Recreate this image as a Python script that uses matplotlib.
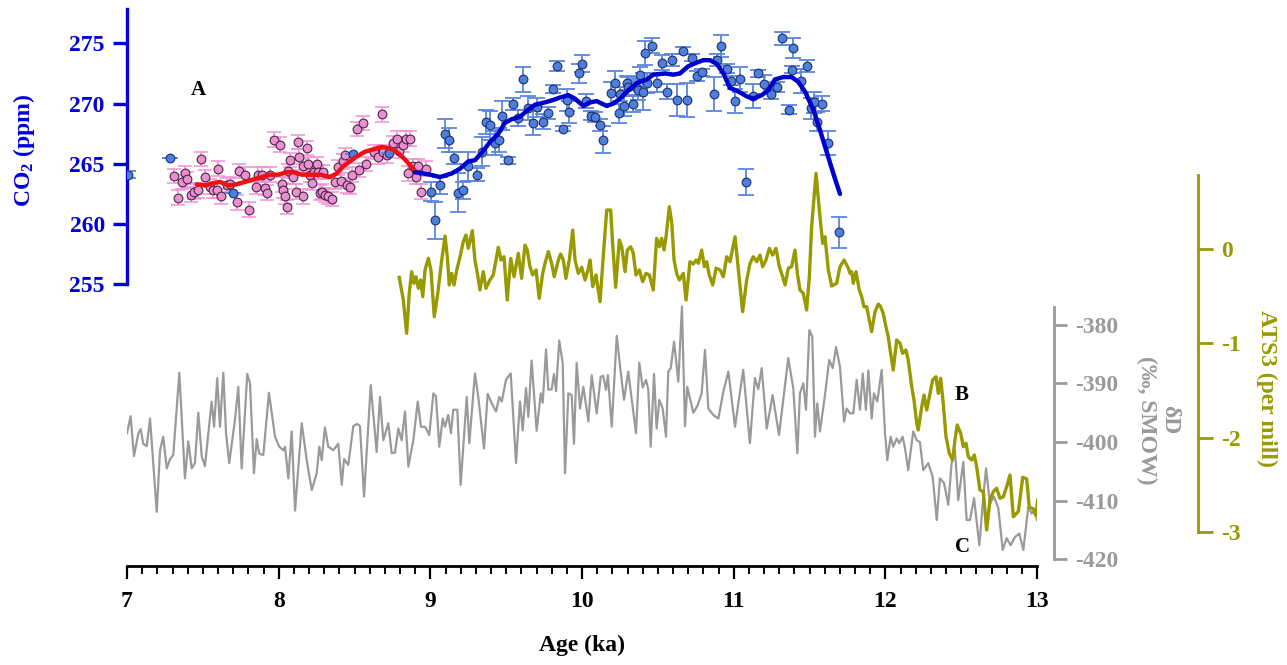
import matplotlib
matplotlib.use("Agg")
import matplotlib.pyplot as plt
from matplotlib.ticker import MultipleLocator, FixedLocator

# ---------------------------------------------------------------- data
# δD (‰, SMOW) record
DD_AGE = [7.000, 7.024, 7.046, 7.075, 7.090, 7.107, 7.130, 7.152, 7.196, 7.218, 7.239, 7.262, 7.284, 7.305,
          7.345, 7.382, 7.404, 7.427, 7.448, 7.470, 7.493, 7.514, 7.558, 7.574, 7.595, 7.613, 7.635, 7.653,
          7.674, 7.712, 7.734, 7.756, 7.793, 7.811, 7.837, 7.855, 7.872, 7.899, 7.936, 7.976, 8.004, 8.031,
          8.042, 8.064, 8.086, 8.108, 8.152, 8.185, 8.218, 8.251, 8.268, 8.284, 8.305, 8.327, 8.360, 8.393,
          8.416, 8.431, 8.459, 8.492, 8.518, 8.536, 8.563, 8.607, 8.646, 8.668, 8.690, 8.723, 8.745, 8.767,
          8.789, 8.811, 8.833, 8.855, 8.888, 8.917, 8.938, 8.965, 8.993, 9.020, 9.037, 9.059, 9.082, 9.097,
          9.118, 9.136, 9.151, 9.178, 9.200, 9.240, 9.257, 9.294, 9.316, 9.354, 9.378, 9.405, 9.433, 9.455,
          9.471, 9.499, 9.530, 9.565, 9.591, 9.609, 9.631, 9.646, 9.668, 9.701, 9.728, 9.741, 9.763, 9.778,
          9.800, 9.815, 9.829, 9.850, 9.873, 9.888, 9.910, 9.932, 9.947, 9.965, 9.987, 10.009, 10.042,
          10.064, 10.097, 10.123, 10.140, 10.158, 10.171, 10.196, 10.229, 10.255, 10.277, 10.305, 10.328,
          10.356, 10.378, 10.400, 10.422, 10.437, 10.453, 10.475, 10.492, 10.510, 10.532, 10.554, 10.569,
          10.585, 10.607, 10.635, 10.659, 10.679, 10.694, 10.734, 10.760, 10.789, 10.811, 10.833, 10.866,
          10.899, 10.932, 10.965, 11.009, 11.037, 11.063, 11.107, 11.140, 11.162, 11.185, 11.218, 11.257,
          11.299, 11.327, 11.360, 11.393, 11.420, 11.437, 11.459, 11.477, 11.499, 11.518, 11.536, 11.551,
          11.569, 11.602, 11.630, 11.653, 11.675, 11.701, 11.728, 11.745, 11.767, 11.789, 11.811, 11.833,
          11.851, 11.872, 11.888, 11.910, 11.925, 11.947, 11.976, 11.998, 12.013, 12.035, 12.052, 12.075,
          12.092, 12.114, 12.130, 12.151, 12.184, 12.207, 12.228, 12.250, 12.283, 12.312, 12.339, 12.360,
          12.387, 12.415, 12.437, 12.459, 12.481, 12.514, 12.536, 12.558, 12.585, 12.620, 12.642, 12.664,
          12.690, 12.716, 12.745, 12.774, 12.800, 12.826, 12.855, 12.883, 12.910, 12.943, 12.965, 12.987,
          13.000]
DD_VAL = [-398.5, -395.6, -402.4, -398.5, -397.8, -400.3, -400.7, -396.0, -411.9, -401.4, -399.1, -404.5,
          -402.9, -402.2, -388.2, -406.2, -399.9, -404.5, -403.6, -395.0, -402.5, -404.1, -393.1, -397.4,
          -389.1, -397.4, -388.2, -398.5, -403.6, -396.2, -390.6, -404.5, -388.4, -390.0, -405.3, -399.5,
          -402.0, -402.2, -391.6, -399.1, -400.8, -401.4, -400.8, -406.2, -398.2, -411.7, -396.8, -403.1,
          -408.2, -405.3, -400.8, -403.1, -397.5, -400.8, -401.4, -400.3, -407.3, -402.9, -403.9, -397.3,
          -396.9, -397.3, -409.3, -390.3, -401.7, -392.3, -399.7, -396.8, -401.9, -401.8, -397.7, -399.7,
          -394.8, -404.2, -399.7, -393.1, -397.4, -397.4, -398.8, -391.7, -392.2, -400.8, -396.0, -397.4,
          -395.4, -398.5, -394.5, -394.5, -407.3, -392.3, -400.2, -388.3, -392.3, -401.1, -391.8, -393.4,
          -394.8, -392.3, -393.1, -389.4, -388.3, -403.6, -393.1, -398.0, -390.8, -395.7, -386.1, -398.1,
          -391.7, -393.3, -384.2, -391.1, -391.0, -388.4, -391.3, -382.7, -386.6, -405.3, -391.7, -392.0,
          -400.3, -386.5, -394.3, -390.6, -396.5, -388.6, -395.1, -388.9, -388.7, -391.1, -388.6, -397.4,
          -381.9, -388.0, -392.8, -388.0, -392.8, -398.5, -386.5, -390.7, -389.4, -391.1, -400.8, -388.4,
          -397.7, -392.8, -394.3, -399.1, -388.0, -387.4, -382.9, -389.7, -376.9, -397.3, -390.6, -395.0,
          -393.9, -391.7, -384.3, -394.3, -395.4, -396.0, -391.4, -388.0, -397.4, -392.3, -387.7, -400.2,
          -389.1, -391.0, -387.4, -397.7, -392.0, -398.8, -392.8, -385.7, -390.8, -401.9, -391.7, -390.0,
          -394.5, -380.9, -382.0, -399.1, -393.4, -398.2, -392.0, -386.0, -387.4, -383.8, -387.2, -396.5,
          -394.3, -395.1, -395.1, -389.4, -394.5, -388.3, -394.5, -387.8, -396.0, -391.7, -393.1, -387.7,
          -398.5, -403.1, -399.1, -400.8, -399.4, -400.2, -399.1, -401.1, -404.8, -398.2, -399.7, -400.0,
          -404.8, -403.6, -405.9, -413.3, -406.2, -407.0, -410.7, -403.6, -401.4, -409.9, -403.4, -413.3,
          -413.3, -409.6, -417.6, -410.5, -404.5, -410.5, -409.3, -411.3, -418.4, -416.4, -417.6, -416.2,
          -415.6, -418.4, -411.0, -412.2, -411.6, -413.3]

# ATS3 (per mill) record
ATS_AGE = [8.795, 8.822, 8.844, 8.861, 8.877, 8.892, 8.905, 8.921, 8.936, 8.950, 8.965, 8.987, 9.004, 9.026,
           9.049, 9.075, 9.097, 9.112, 9.125, 9.141, 9.156, 9.174, 9.196, 9.217, 9.235, 9.250, 9.277, 9.294,
           9.310, 9.327, 9.349, 9.367, 9.393, 9.415, 9.433, 9.448, 9.466, 9.486, 9.507, 9.530, 9.552, 9.580,
           9.602, 9.624, 9.639, 9.657, 9.675, 9.697, 9.718, 9.741, 9.756, 9.778, 9.800, 9.817, 9.844, 9.859,
           9.877, 9.894, 9.916, 9.939, 9.954, 9.976, 9.998, 10.020, 10.042, 10.053, 10.071, 10.092, 10.119,
           10.140, 10.163, 10.189, 10.202, 10.222, 10.246, 10.262, 10.284, 10.299, 10.321, 10.338, 10.356,
           10.378, 10.400, 10.422, 10.444, 10.470, 10.492, 10.510, 10.525, 10.541, 10.554, 10.576, 10.592,
           10.607, 10.624, 10.642, 10.668, 10.686, 10.712, 10.734, 10.752, 10.767, 10.789, 10.807, 10.822,
           10.839, 10.862, 10.884, 10.910, 10.932, 10.954, 10.976, 11.009, 11.031, 11.059, 11.086, 11.108,
           11.129, 11.152, 11.174, 11.191, 11.213, 11.235, 11.257, 11.279, 11.301, 11.323, 11.339, 11.360,
           11.382, 11.404, 11.420, 11.437, 11.459, 11.481, 11.499, 11.514, 11.543, 11.569, 11.587, 11.602,
           11.624, 11.646, 11.679, 11.701, 11.728, 11.756, 11.767, 11.778, 11.789, 11.807, 11.828, 11.844,
           11.859, 11.877, 11.894, 11.910, 11.932, 11.954, 11.969, 11.986, 12.004, 12.019, 12.035, 12.052,
           12.075, 12.097, 12.114, 12.136, 12.151, 12.174, 12.189, 12.207, 12.217, 12.240, 12.255, 12.273,
           12.290, 12.312, 12.334, 12.349, 12.365, 12.382, 12.400, 12.422, 12.444, 12.459, 12.474, 12.497,
           12.514, 12.532, 12.547, 12.569, 12.587, 12.602, 12.624, 12.646, 12.668, 12.690, 12.712, 12.734,
           12.756, 12.778, 12.800, 12.822, 12.844, 12.877, 12.906, 12.932, 12.949, 12.976, 12.993, 13.005]
ATS_VAL = [-0.300, -0.540, -0.893, -0.469, -0.240, -0.363, -0.293, -0.416, -0.328, -0.505, -0.222, -0.099,
           -0.222, -0.717, -0.469, -0.117, 0.138, -0.082, -0.381, -0.258, -0.381, -0.222, -0.082, 0.077,
           0.148, 0.007, 0.194, -0.117, -0.258, -0.434, -0.240, -0.416, -0.328, -0.275, -0.117, 0.018,
           -0.117, -0.082, -0.540, -0.099, -0.293, -0.046, -0.311, 0.042, -0.011, -0.187, -0.275, -0.222,
           -0.523, -0.258, -0.152, -0.028, -0.152, -0.293, -0.117, -0.053, -0.117, -0.311, -0.117, 0.201,
           -0.117, -0.258, -0.194, -0.328, -0.204, -0.117, -0.399, -0.275, -0.558, -0.082, 0.413, 0.413,
           0.060, -0.406, 0.095, 0.024, -0.240, -0.011, 0.024, -0.046, -0.275, -0.222, -0.346, -0.258,
           -0.275, -0.434, 0.113, 0.024, 0.113, -0.011, 0.130, 0.448, 0.272, -0.117, -0.258, -0.328,
           -0.258, -0.540, -0.134, -0.159, -0.117, -0.152, -0.011, -0.187, -0.134, -0.275, -0.381, -0.204,
           -0.222, -0.293, -0.082, -0.134, 0.130, -0.222, -0.664, -0.328, -0.152, -0.082, -0.134, -0.064,
           -0.187, -0.117, 0.007, -0.064, 0.007, -0.187, -0.293, -0.381, -0.204, -0.187, -0.011, -0.258,
           -0.434, -0.469, -0.646, -0.293, 0.236, 0.802, 0.342, 0.060, 0.130, -0.222, -0.392, -0.363,
           -0.187, -0.117, -0.204, -0.258, -0.240, -0.363, -0.240, -0.434, -0.505, -0.611, -0.611, -0.752,
           -0.876, -0.664, -0.583, -0.611, -0.681, -0.823, -0.929, -1.105, -1.282, -0.964, -0.999, -1.105,
           -1.070, -1.176, -1.459, -1.600, -1.846, -1.917, -1.671, -1.547, -1.706, -1.565, -1.388, -1.353,
           -1.529, -1.370, -1.635, -1.988, -2.164, -2.235, -2.023, -1.864, -1.952, -2.094, -2.058, -2.200,
           -2.235, -2.182, -2.306, -2.553, -2.571, -2.977, -2.659, -2.571, -2.535, -2.641, -2.624, -2.518,
           -2.394, -2.836, -2.780, -2.418, -2.435, -2.735, -2.752, -2.824, -2.659]

# CO2 (ppm), older ice-core measurements with 1-sigma errors
BLUE_AGE = [7.009, 7.284, 7.701, 8.488, 8.727, 9.002, 9.031, 9.064, 9.097, 9.125, 9.158, 9.184, 9.213,
            9.250, 9.310, 9.339, 9.367, 9.393, 9.426, 9.455, 9.474, 9.512, 9.547, 9.580, 9.613, 9.646,
            9.675, 9.701, 9.741, 9.774, 9.807, 9.833, 9.877, 9.899, 9.914, 9.982, 9.998, 10.026, 10.057,
            10.086, 10.119, 10.140, 10.189, 10.218, 10.246, 10.250, 10.279, 10.294, 10.305, 10.338, 10.360,
            10.371, 10.382, 10.400, 10.418, 10.431, 10.464, 10.492, 10.525, 10.558, 10.593, 10.628, 10.664,
            10.694, 10.723, 10.760, 10.789, 10.870, 10.892, 10.917, 10.958, 10.980, 11.011, 11.042, 11.081,
            11.125, 11.162, 11.200, 11.244, 11.284, 11.319, 11.365, 11.383, 11.389, 11.444, 11.481, 11.508,
            11.530, 11.551, 11.584, 11.619, 11.694]
BLUE_CO2 = [264.1, 265.5, 262.6, 265.8, 265.9, 262.7, 260.3, 263.2, 267.5, 267.0, 265.5, 262.6, 262.8,
            264.8, 264.1, 266.0, 268.5, 268.2, 266.7, 267.0, 269.0, 265.3, 270.0, 268.8, 272.0, 269.6,
            268.4, 269.7, 268.5, 269.2, 271.2, 273.1, 267.9, 270.3, 269.3, 272.5, 273.3, 270.2, 269.0,
            268.9, 268.2, 267.0, 270.9, 271.7, 269.2, 270.8, 269.8, 271.7, 271.4, 270.0, 271.3,
            271.1, 272.4, 271.0, 274.2, 271.7, 274.8, 271.7, 273.4, 271.0, 273.6, 270.3, 274.4,
            270.3, 273.8, 272.3, 272.6, 270.8, 273.6, 274.8, 272.9, 271.9, 270.2, 272.0, 263.5,
            270.6, 272.5, 271.6, 270.8, 271.4, 275.4, 269.5, 272.8, 274.6, 271.9, 273.1, 269.6,
            270.1, 268.5, 270.0, 266.7, 259.3]
BLUE_ERR = [0.3, 0.0, 0.0, 0.0, 0.0, 0.8, 1.5, 0.7, 1.2, 1.0, 0.5, 1.6, 0.7,
            1.2, 0.55, 1.2, 1.0, 1.2, 1.0, 1.0, 1.2, 0.3, 0.5, 0.7, 1.0, 1.0,
            1.0, 0.8, 0.6, 0.5, 0.3, 0.4, 0.2, 0.9, 0.9, 0.8, 0.7, 0.6, 0.4,
            0.4, 0.5, 1.1, 0.9, 1.0, 0.8, 0.6, 0.8, 0.6, 0.8, 0.7, 0.7,
            0.8, 0.6, 1.5, 1.0, 0.8, 0.6, 0.7, 0.6, 0.6, 0.5, 1.3, 0.3,
            1.4, 0.3, 0.4, 0.3, 1.4, 0.5, 0.9, 0.4, 0.4, 1.0, 1.0, 1.1,
            1.0, 0.3, 0.8, 0.4, 0.4, 0.5, 0.4, 0.3, 0.8, 1.0, 0.5, 0.9,
            0.9, 0.8, 0.6, 1.0, 1.3]

# CO2 (ppm), new high-resolution measurements
PINK_AGE = [7.312, 7.334, 7.365, 7.382, 7.398, 7.422, 7.444, 7.466, 7.486, 7.514, 7.547, 7.569, 7.591,
            7.602, 7.620, 7.657, 7.679, 7.727, 7.740, 7.778, 7.804, 7.850, 7.866, 7.888, 7.910, 7.921,
            7.943, 7.969, 8.009, 8.020, 8.031, 8.042, 8.053, 8.064, 8.075, 8.097, 8.112, 8.130, 8.136,
            8.158, 8.162, 8.185, 8.195, 8.207, 8.222, 8.233, 8.251, 8.261, 8.273, 8.284, 8.294, 8.306,
            8.327, 8.350, 8.371, 8.393, 8.409, 8.426, 8.437, 8.449, 8.470, 8.482, 8.514, 8.532, 8.558,
            8.576, 8.629, 8.657, 8.679, 8.690, 8.712, 8.756, 8.778, 8.795, 8.817, 8.839, 8.854, 8.866,
            8.888, 8.904, 8.921, 8.936, 8.971]
PINK_CO2 = [264.0, 262.2, 263.5, 264.2, 263.7, 262.4, 262.7, 262.8, 265.4, 263.9, 263.1, 262.8, 262.8,
            264.6, 262.3, 263.2, 263.3, 261.8, 264.4, 264.1, 261.2, 263.1, 264.1, 264.1, 263.0, 262.6,
            264.1, 267.0, 266.6, 263.3, 262.8, 262.3, 261.4, 264.4, 265.3, 263.9, 262.7, 266.8, 265.6,
            262.3, 264.8, 266.3, 265.0, 264.1, 263.4, 264.3, 265.0, 264.3, 262.6, 262.7, 264.3, 262.4,
            262.3, 262.1, 263.5, 264.7, 263.6, 265.2, 265.7, 263.2, 263.1, 264.1, 267.9, 264.5, 268.4,
            265.0, 266.0, 265.6, 269.1, 266.0, 265.7, 266.7, 267.1, 266.1, 266.6, 267.1, 264.2, 267.1,
            264.8, 263.9, 264.8, 262.7, 264.6]
PINK_ERR = 0.6

# Smoothed CO2 curves
RED_AGE = [7.460, 7.514, 7.569, 7.613, 7.668, 7.723, 7.778, 7.833, 7.888, 7.943, 7.998, 8.053, 8.101,
           8.152, 8.207, 8.273, 8.338, 8.383, 8.426, 8.470, 8.514, 8.569, 8.624, 8.679, 8.723, 8.767,
           8.822, 8.866, 8.899]
RED_CO2 = [263.3, 263.2, 263.4, 263.5, 263.2, 263.3, 263.5, 263.7, 263.9, 264.1, 264.1, 264.3, 264.3,
           264.1, 264.1, 264.1, 263.9, 264.2, 264.8, 265.2, 265.6, 266.0, 266.2, 266.4, 266.3, 266.1,
           265.5, 264.9, 264.4]
BLUE_LINE_AGE = [8.899, 8.998, 9.064, 9.141, 9.196, 9.250, 9.294, 9.338, 9.393, 9.448, 9.492, 9.536,
                 9.591, 9.646, 9.690, 9.756, 9.811, 9.855, 9.910, 9.954, 10.009, 10.053, 10.097, 10.163,
                 10.206, 10.251, 10.305, 10.361, 10.427, 10.470, 10.547, 10.602, 10.646, 10.701, 10.756,
                 10.800, 10.844, 10.888, 10.932, 10.976, 11.031, 11.086, 11.129, 11.185, 11.228, 11.272,
                 11.327, 11.382, 11.426, 11.470, 11.525, 11.569, 11.613, 11.657, 11.701]
BLUE_LINE_CO2 = [264.3, 264.1, 263.9, 264.2, 264.6, 265.2, 265.3, 265.9, 266.8, 267.5, 268.4, 268.7,
                 268.9, 269.5, 269.9, 270.1, 270.3, 270.5, 270.7, 270.4, 269.8, 270.1, 270.2, 269.8,
                 270.0, 270.4, 271.1, 271.7, 272.0, 272.4, 272.5, 272.4, 272.5, 273.1, 273.4,
                 273.6, 273.6, 273.3, 272.5, 271.3, 271.0, 270.6, 270.4, 270.7, 271.1, 272.0,
                 272.2, 272.2, 271.8, 271.0, 269.5, 267.8, 266.0, 264.2, 262.5]

AGE_TICKS = [7, 8, 9, 10, 11, 12, 13]
CO2_TICKS = [255, 260, 265, 270, 275]
ATS_TICKS = [0, -1, -2, -3]
DD_TICKS = [-380, -390, -400, -410, -420]

# ---------------------------------------------------------------- style
plt.rcParams['font.family'] = ['Liberation Serif', 'DejaVu Serif']
plt.rcParams['font.weight'] = 'bold'
plt.rcParams['axes.unicode_minus'] = False
plt.rcParams['mathtext.fontset'] = 'custom'
plt.rcParams['mathtext.rm'] = 'Liberation Serif:bold'
plt.rcParams['mathtext.bf'] = 'Liberation Serif:bold'
plt.rcParams['mathtext.it'] = 'Liberation Serif:bold:italic'

BLUE_AX = '#0000dd'
OLIVE = '#999900'
GRAY = '#9a9a9a'
FS = 17

W, H = 1287, 665
fig = plt.figure(figsize=(W / 100, H / 100), dpi=100)


def fx(px):
    return px / W


def fy(py):
    return 1 - py / H


rect = [fx(127), fy(566), fx(1037) - fx(127), fy(5) - fy(566)]

# δD axis carries the shared age axis
ax = fig.add_axes(rect)
ax2 = ax.twinx()   # ATS3
ax3 = ax.twinx()   # CO2

ax.set_xlim(7, 13)
ax.set_ylim(-421.14, -325.49)
for s in ['top', 'left']:
    ax.spines[s].set_visible(False)
ax.spines['bottom'].set_linewidth(2)
ax.spines['bottom'].set_color('black')
ax.xaxis.set_major_locator(FixedLocator(AGE_TICKS))
ax.xaxis.set_minor_locator(MultipleLocator(0.1))
ax.tick_params(axis='x', which='major', length=9, width=1.6, direction='out',
               labelsize=FS, pad=9, colors='black')
ax.tick_params(axis='x', which='minor', length=5.5, width=1.4, direction='out')

ax.yaxis.tick_right()
ax.spines['right'].set_visible(True)
ax.spines['right'].set_position(('axes', (1054 - 127) / 910))
ax.spines['right'].set_bounds(-420, -377.0)
ax.spines['right'].set_color(GRAY)
ax.spines['right'].set_linewidth(2)
ax.yaxis.set_major_locator(FixedLocator(DD_TICKS))
ax.tick_params(axis='y', which='both', length=9, width=2, direction='out',
               colors=GRAY, labelsize=FS, pad=6, left=False, labelleft=False,
               right=True, labelright=True)
ax.plot(DD_AGE, DD_VAL, color=GRAY, lw=1.6, zorder=2)

# ATS3 axis
ax2.set_ylim(-3.358, 2.585)
for s in ['top', 'left', 'bottom']:
    ax2.spines[s].set_visible(False)
ax2.spines['right'].set_position(('axes', (1198 - 127) / 910))
ax2.spines['right'].set_bounds(-3, 0.784)
ax2.spines['right'].set_color(OLIVE)
ax2.spines['right'].set_linewidth(2)
ax2.yaxis.set_major_locator(FixedLocator(ATS_TICKS))
ax2.tick_params(axis='y', length=11, width=2, direction='out', colors=OLIVE,
                labelsize=FS, pad=6)
ax2.plot(ATS_AGE, ATS_VAL, color=OLIVE, lw=2.4, zorder=3)

# CO2 axis
ax3.set_ylim(231.62, 278.18)
for s in ['top', 'right', 'bottom']:
    ax3.spines[s].set_visible(False)
ax3.yaxis.tick_left()
ax3.spines['left'].set_visible(True)
ax3.spines['left'].set_bounds(255, 277.85)
ax3.spines['left'].set_color(BLUE_AX)
ax3.spines['left'].set_linewidth(2.4)
ax3.yaxis.set_major_locator(FixedLocator(CO2_TICKS))
ax3.tick_params(axis='y', length=10, width=2.4, direction='out', colors=BLUE_AX,
                labelsize=FS, pad=6)

ax3.errorbar(PINK_AGE, PINK_CO2, yerr=PINK_ERR, fmt='none', ecolor='#f28fd6',
             elinewidth=1.1, capsize=5, capthick=1.1, zorder=3)
ax3.plot(PINK_AGE, PINK_CO2, 'o', ms=6.3, mfc='#ea8fd0', mec='#4a2446', mew=0.8, zorder=4)
ax3.errorbar(BLUE_AGE, BLUE_CO2, yerr=BLUE_ERR, fmt='none', ecolor='#5b86dc',
             elinewidth=1.3, capsize=5.5, capthick=1.3, zorder=5)
ax3.plot(BLUE_AGE, BLUE_CO2, 'o', ms=6.3, mfc='#4f7fdc', mec='#1d2f70', mew=0.8, zorder=6)
ax3.plot(RED_AGE, RED_CO2, color='#ee1111', lw=3.2, zorder=7, solid_capstyle='round')
ax3.plot(BLUE_LINE_AGE, BLUE_LINE_CO2, color='#0000cc', lw=3.2, zorder=7,
         solid_capstyle='round')

# ---------------------------------------------------------------- labels
fig.text(fx(24), fy(150), 'CO$_{2}$ (ppm)', rotation=90, ha='center', va='center',
         color=BLUE_AX, fontsize=FS, fontweight='bold')
fig.text(fx(1267), fy(388), 'ATS3 (per mill)', rotation=270, ha='center', va='center',
         color=OLIVE, fontsize=FS, fontweight='bold')
fig.text(fx(1158), fy(420), 'δD\n(‰, SMOW)', rotation=270, ha='center', va='center',
         color=GRAY, fontsize=FS, fontweight='bold', linespacing=1.1, multialignment='center')
fig.text(fx(582), fy(645), 'Age (ka)', ha='center', va='center', color='black',
         fontsize=FS, fontweight='bold')
fig.text(fx(198), fy(90), 'A', ha='center', va='center', fontsize=15, fontweight='bold')
fig.text(fx(962), fy(395), 'B', ha='center', va='center', fontsize=15, fontweight='bold')
fig.text(fx(963), fy(547), 'C', ha='center', va='center', fontsize=15, fontweight='bold')

fig.savefig('out.png', dpi=100, facecolor='white')
